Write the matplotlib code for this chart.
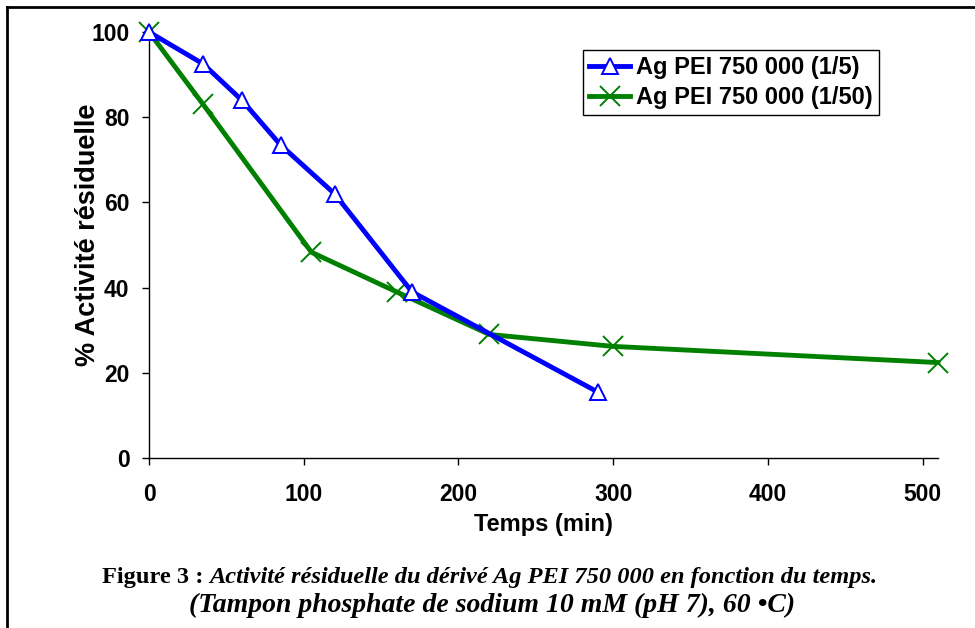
import matplotlib
matplotlib.use("Agg")
import matplotlib.pyplot as plt
from matplotlib.lines import Line2D

# Data
t_15 = [0, 35, 60, 85, 120, 170, 290]
act_15 = [100, 92.5, 84, 73.5, 62, 39, 15.5]
t_150 = [0, 35, 105, 160, 220, 300, 510]
act_150 = [100, 83, 48.3, 39, 29, 26.2, 22.4]
series_labels = ["Ag PEI 750 000 (1/5)", "Ag PEI 750 000 (1/50)"]
x_ticks = [0, 100, 200, 300, 400, 500]
y_ticks = [0, 20, 40, 60, 80, 100]
xlabel = "Temps (min)"
ylabel = "% Activité résiduelle"
cap1a = "Figure 3 : "
cap1b = "Activité résiduelle du dérivé Ag PEI 750 000 en fonction du temps."
cap2 = "(Tampon phosphate de sodium 10 mM (pH 7), 60 \u2022C)"

W, H = 975, 628
fig = plt.figure(figsize=(W / 100, H / 100), dpi=100)
sans = "Liberation Sans"
serif = "Liberation Serif"

ax = fig.add_axes([149 / W, (H - 458) / H, (938 - 149) / W, (458 - 32) / H])
ax.plot(t_15, act_15, color="#0000FF", lw=3.5, marker="^", ms=12, mfc="white",
        mec="#0000FF", mew=1.4, clip_on=False, zorder=3, label=series_labels[0])
ax.plot(t_150, act_150, color="#008000", lw=3.5, marker="x", ms=14,
        mec="#008000", mew=1.4, clip_on=False, zorder=2, label=series_labels[1])
ax.set_xlim(0, 510)
ax.set_ylim(0, 100)
ax.set_xticks(x_ticks)
ax.set_yticks(y_ticks)
for s in ["top", "right"]:
    ax.spines[s].set_visible(False)
for s in ["left", "bottom"]:
    ax.spines[s].set_linewidth(1.0)
ax.tick_params(direction="out", length=5, width=1, labelsize=16.5)
ax.tick_params(axis="y", pad=9)
ax.tick_params(axis="x", pad=13)
for lbl in ax.get_xticklabels() + ax.get_yticklabels():
    lbl.set_fontfamily(sans)
    lbl.set_fontweight("bold")
ax.set_xlabel(xlabel, fontsize=17, fontweight="bold", family=sans, labelpad=5)
ax.set_ylabel(ylabel, fontsize=19.5, fontweight="bold", family=sans)
ax.yaxis.set_label_coords((88 - 149) / (938 - 149), (458 - 235) / 426)
ax.yaxis.label.set_va("center")

leg = ax.legend(loc="upper left", bbox_to_anchor=((583 - 149) / (938 - 149), (458 - 50) / 426),
                frameon=True, fancybox=False, edgecolor="black", framealpha=1,
                prop={"family": sans, "weight": "bold", "size": 17},
                handlelength=1.75, handletextpad=0.25, borderpad=0.25, labelspacing=0.3,
                borderaxespad=0)
leg.get_frame().set_linewidth(1.0)

# figure border (top and left)
fig.add_artist(Line2D([7 / W, 1.0], [1 - 7 / H, 1 - 7 / H], color="black", lw=2, transform=fig.transFigure))
fig.add_artist(Line2D([7 / W, 7 / W], [0, 1 - 7 / H], color="black", lw=2, transform=fig.transFigure))

# caption
fig.canvas.draw()
r = fig.canvas.get_renderer()
ta = fig.text(0, 1 - 577 / H, cap1a, family=serif, weight="bold", size=17.6, va="center", ha="left")
tb = fig.text(0, 1 - 577 / H, cap1b, family=serif, weight="bold", style="italic", size=17.6, va="center", ha="left")
wa = ta.get_window_extent(r).width
wb = tb.get_window_extent(r).width
x0 = 490 - (wa + wb) / 2
ta.set_x(x0 / W)
tb.set_x((x0 + wa) / W)
fig.text(492 / W, 1 - 605 / H, cap2, family=serif, weight="bold", style="italic", size=20, va="center", ha="center")

fig.savefig("out.png", dpi=100)
